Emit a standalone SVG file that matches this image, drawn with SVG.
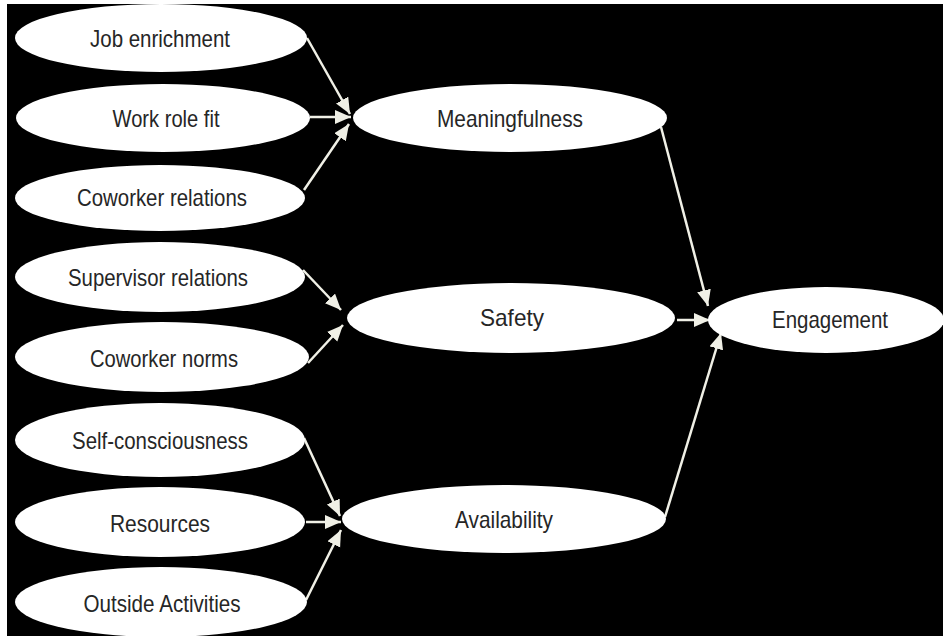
<svg xmlns="http://www.w3.org/2000/svg" width="943" height="636" viewBox="0 0 943 636">
<defs>
<style>
.node ellipse{fill:#ffffff;stroke:none}
.node text{font-family:"Liberation Sans",Arial,sans-serif;font-size:24px;fill:#262626;text-anchor:middle}
.edge{stroke:#f0f0e6;stroke-width:2.5;fill:none;marker-end:url(#ah)}
</style>
<marker id="ah" markerUnits="userSpaceOnUse" markerWidth="17" markerHeight="15" refX="16" refY="7" orient="auto">
<path d="M0,0 L16,7 L0,14 z" fill="#f0f0e6"/>
</marker>
</defs>
<rect x="0" y="0" width="943" height="636" fill="#ffffff"/>
<rect x="7" y="4" width="936" height="632" fill="#000000"/>
<g id="connectors">
<line class="edge" x1="307" y1="38" x2="350" y2="114"/>
<line class="edge" x1="310" y1="117" x2="351" y2="117"/>
<line class="edge" x1="304" y1="190" x2="349" y2="124"/>
<line class="edge" x1="303" y1="270" x2="341" y2="310"/>
<line class="edge" x1="308" y1="363" x2="343" y2="325"/>
<line class="edge" x1="304" y1="438" x2="340" y2="516"/>
<line class="edge" x1="306" y1="522" x2="341" y2="522"/>
<line class="edge" x1="306" y1="600" x2="341" y2="530"/>
<line class="edge" x1="661" y1="127" x2="708" y2="306"/>
<line class="edge" x1="677" y1="320" x2="710" y2="320"/>
<line class="edge" x1="665" y1="517" x2="721" y2="333"/>
</g>
<g id="job-enrichment" class="node"><ellipse cx="161" cy="38" rx="146" ry="34"/><text x="160" y="47" textLength="140" lengthAdjust="spacingAndGlyphs">Job enrichment</text></g>
<g id="work-role-fit" class="node"><ellipse cx="163" cy="118" rx="147" ry="34"/><text x="166" y="127" textLength="107" lengthAdjust="spacingAndGlyphs">Work role fit</text></g>
<g id="coworker-relations" class="node"><ellipse cx="160" cy="198" rx="145" ry="33"/><text x="162" y="206" textLength="170" lengthAdjust="spacingAndGlyphs">Coworker relations</text></g>
<g id="supervisor-relations" class="node"><ellipse cx="160" cy="277" rx="145" ry="35"/><text x="158" y="286" textLength="180" lengthAdjust="spacingAndGlyphs">Supervisor relations</text></g>
<g id="coworker-norms" class="node"><ellipse cx="162" cy="357" rx="147" ry="35"/><text x="164" y="367" textLength="148" lengthAdjust="spacingAndGlyphs">Coworker norms</text></g>
<g id="self-consciousness" class="node"><ellipse cx="160" cy="440" rx="145" ry="37"/><text x="160" y="449" textLength="176" lengthAdjust="spacingAndGlyphs">Self-consciousness</text></g>
<g id="resources" class="node"><ellipse cx="160" cy="522" rx="145" ry="35"/><text x="160" y="532" textLength="100" lengthAdjust="spacingAndGlyphs">Resources</text></g>
<g id="outside-activities" class="node"><ellipse cx="161" cy="602" rx="146" ry="35"/><text x="162" y="612" textLength="157" lengthAdjust="spacingAndGlyphs">Outside Activities</text></g>
<g id="meaningfulness" class="node"><ellipse cx="510" cy="118" rx="157" ry="34"/><text x="510" y="127" textLength="146" lengthAdjust="spacingAndGlyphs">Meaningfulness</text></g>
<g id="safety" class="node"><ellipse cx="511" cy="318" rx="164" ry="35"/><text x="512" y="326" textLength="64" lengthAdjust="spacingAndGlyphs">Safety</text></g>
<g id="availability" class="node"><ellipse cx="504" cy="519" rx="162" ry="34"/><text x="504" y="528" textLength="98" lengthAdjust="spacingAndGlyphs">Availability</text></g>
<g id="engagement" class="node"><ellipse cx="826" cy="320" rx="118" ry="33"/><text x="830" y="328" textLength="116" lengthAdjust="spacingAndGlyphs">Engagement</text></g>
</svg>
